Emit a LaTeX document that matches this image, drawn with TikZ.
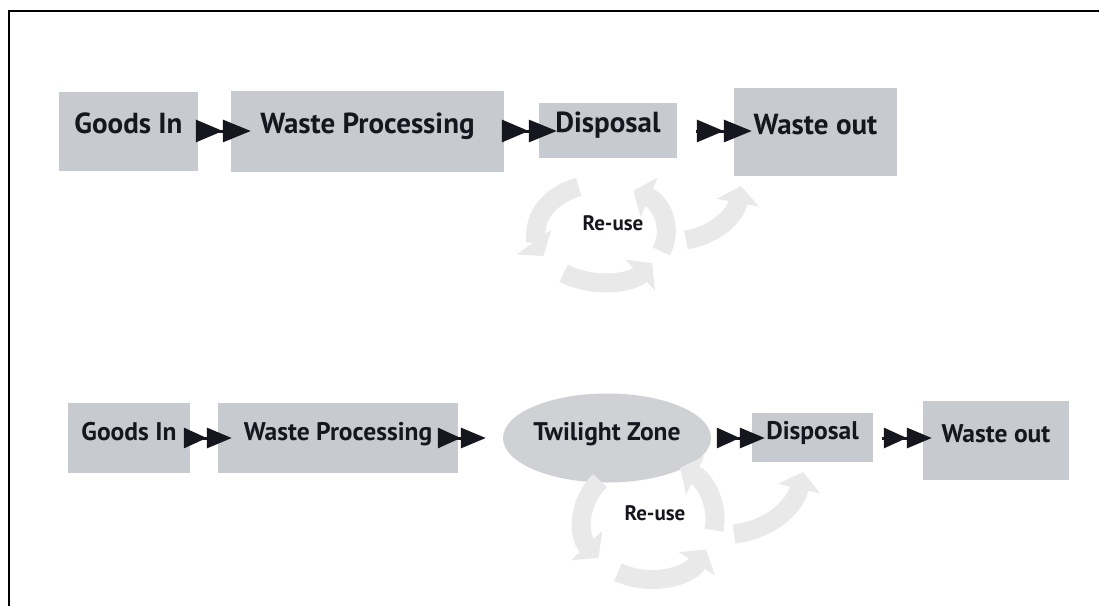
\documentclass[tikz,border=0pt]{standalone}
\usepackage{fontspec}
\setmainfont{PT Sans}
\usetikzlibrary{arrows.meta,shapes.geometric}
\definecolor{boxfill}{RGB}{199,202,207}
\definecolor{zonefill}{RGB}{207,209,213}
\definecolor{loopfill}{RGB}{233,233,233}
\definecolor{ink}{RGB}{22,22,30}
\begin{document}
\begin{tikzpicture}[x=1pt,y=-1pt,
  stage/.style={fill=boxfill, inner sep=0pt, text=ink, font=\bfseries,
    text height=0.72em, text depth=0.2em},
  upper/.style={stage, font=\bfseries\fontsize{29}{31}\selectfont},
  lower/.style={stage, font=\bfseries\fontsize{25.5}{27}\selectfont},
  zone/.style={lower, ellipse, fill=zonefill},
  flowA/.style={line width=3pt, draw=ink,
    -{Triangle[length=27pt,width=22pt,sep=0pt]Triangle[length=28pt,width=22pt]}},
  flowB/.style={line width=3pt, draw=ink,
    -{Triangle[length=23pt,width=20pt,sep=0pt]Triangle[length=25pt,width=20pt]}},
  loop/.style={draw=loopfill, line width=19pt,
    -{Triangle[length=17pt,width=42pt]}},
  loopnote/.style={inner sep=0pt, text=ink, font=\bfseries\fontsize{21}{23}\selectfont}]

\useasboundingbox (0,0) rectangle (1099,605);
\fill[white] (0,0) rectangle (1099,605);

% page frame (top and left edges)
\draw[line width=2pt, line cap=rect] (9,605) -- (9,11) -- (1099,11);

% ---------- upper chain ----------
\node[upper, minimum width=139pt, minimum height=79pt] (gi1) at (128.5,131) {Goods In};
\node[upper, minimum width=273pt, minimum height=81pt] (wp1) at (367.5,131) {Waste Processing};
\node[upper, minimum width=138pt, minimum height=55pt] (dp1) at (608,130) {Disposal};
\node[upper, minimum width=163pt, minimum height=88pt] (wo1) at (815.5,132) {Waste out};

\draw[flowA] ([xshift=-1pt]gi1.east) -- ([xshift=20pt]wp1.west);
\draw[flowA] ([xshift=-2pt]wp1.east) -- ([xshift=18pt]dp1.west |- wp1.east);
\draw[flowA] ([xshift=19pt]dp1.east |- wp1.east) -- ([xshift=18pt]wo1.west |- wp1.east);

% re-use loop
\coordinate (c1) at (601,233);
\draw[loop] (c1) ++(250:65 and 49) arc[start angle=250, end angle=152, x radius=65, y radius=49];
\draw[loop] (c1) ++(125:65 and 49) arc[start angle=125, end angle=38, x radius=65, y radius=49];
\draw[loop] (c1) ++(22:65 and 49) arc[start angle=22, end angle=-60, x radius=65, y radius=49];
\coordinate (o1a) at (686,240);
\coordinate (o1b) at (741,186);
\draw[loop] (o1a) to[bend right=35] (o1b);
\node[loopnote] (r1) at (613,223) {Re-use};

% ---------- lower chain ----------
\node[lower, minimum width=122pt, minimum height=70pt] (gi2) at (129,438) {Goods In};
\node[lower, minimum width=240pt, minimum height=70pt] (wp2) at (338,438) {Waste Processing};
\node[zone, minimum width=180pt, minimum height=89pt] (tz) at (607,438) {Twilight Zone};
\node[lower, minimum width=121pt, minimum height=49pt] (dp2) at (812.5,437) {Disposal};
\node[lower, minimum width=146pt, minimum height=79pt] (wo2) at (996,440) {Waste out};

\draw[flowB] ([xshift=-5pt]gi2.east) -- ([xshift=14pt]wp2.west);
\draw[flowB] ([xshift=-10pt]wp2.east) -- ([xshift=-17pt]tz.west);
\draw[flowB] ([xshift=19pt]tz.east) -- ([xshift=13pt]dp2.west |- tz.east);
\draw[flowB] ([xshift=9pt]dp2.east |- tz.east) -- ([xshift=9pt]wo2.west |- tz.east);

% re-use loop
\coordinate (c2) at (649,520);
\draw[loop] (c2) ++(222:66 and 59) arc[start angle=222, end angle=140, x radius=66, y radius=59];
\draw[loop] (c2) ++(118:66 and 59) arc[start angle=118, end angle=30, x radius=66, y radius=59];
\draw[loop] (c2) ++(10:66 and 59) arc[start angle=10, end angle=-62, x radius=66, y radius=59];
\coordinate (o2a) at (734,534);
\coordinate (o2b) at (803,472);
\draw[loop] (o2a) to[bend right=35] (o2b);
\node[loopnote] (r2) at (655,513) {Re-use};

\end{tikzpicture}
\end{document}
